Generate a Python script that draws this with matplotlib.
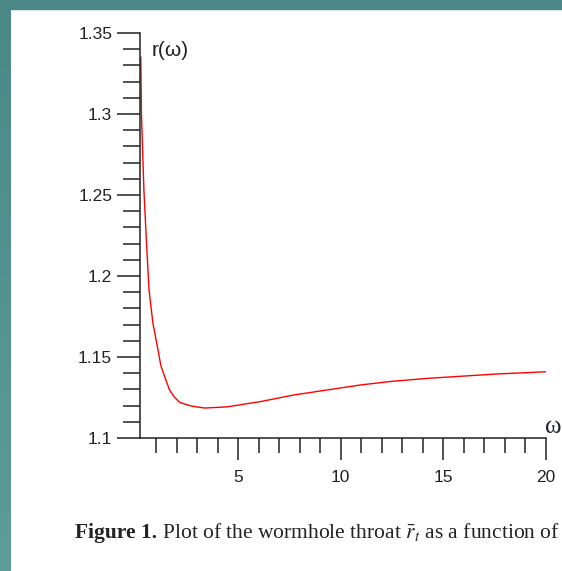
import matplotlib.pyplot as plt
import numpy as np
from matplotlib.colors import LinearSegmentedColormap
from matplotlib.ticker import MultipleLocator

# values
omega = [0.26, 0.29, 0.41, 0.53, 0.66, 0.85, 1.10, 1.23, 1.42, 1.66, 1.91, 2.15, 2.56,
         2.82, 3.37, 4.44, 6.06, 7.69, 9.31, 10.94, 12.5, 14.33, 17.6, 20.0]
r_throat = [1.335, 1.300, 1.2531, 1.2222, 1.1914, 1.1708, 1.1543, 1.145, 1.1379, 1.1296,
            1.125, 1.122, 1.1203, 1.1195, 1.1185, 1.1192, 1.1224, 1.1265, 1.1296, 1.1327,
            1.1350, 1.1369, 1.1395, 1.1409]
y_ticks = [1.1, 1.15, 1.2, 1.25, 1.3, 1.35]
y_tick_labels = ['1.1', '1.15', '1.2', '1.25', '1.3', '1.35']
x_ticks = [5, 10, 15, 20]

plt.rcParams['font.family'] = ['Liberation Sans', 'DejaVu Sans']
plt.rcParams['mathtext.fontset'] = 'stix'

W, H = 562, 571
fig = plt.figure(figsize=(W / 100, H / 100), dpi=100)
fig.patch.set_facecolor('white')

# teal frame (top band + left band with a light gradient)
fig.patches.append(plt.Rectangle((0, 1 - 9 / H), 1, 9 / H, transform=fig.transFigure,
                                 color='#4a8987', zorder=0))
band = fig.add_axes([0, 0, 11 / W, 1 - 9 / H])
grad = np.linspace(0, 1, 256).reshape(-1, 1)
cmap = LinearSegmentedColormap.from_list('teal', ['#4a8987', '#5d9c9a'])
band.imshow(grad, aspect='auto', cmap=cmap, extent=[0, 1, 0, 1])
band.axis('off')

ax = fig.add_axes([140 / W, (H - 438) / H, (546 - 140) / W, (438 - 33) / H])
ax.plot(omega, r_throat, color='#ff0000', lw=1.0)

ax.set_xlim(0.22, 20)
ax.set_ylim(1.1, 1.35)
ax.set_xticks(x_ticks)
ax.set_yticks(y_ticks)
ax.set_yticklabels(y_tick_labels)
ax.xaxis.set_minor_locator(MultipleLocator(1))
ax.yaxis.set_minor_locator(MultipleLocator(0.01))

for s in ['top', 'right']:
    ax.spines[s].set_visible(False)
for s in ['left', 'bottom']:
    ax.spines[s].set_linewidth(1.1)
    ax.spines[s].set_color('#222222')

ax.tick_params(axis='y', which='major', direction='out', length=16.5, width=1.1,
               pad=3.5, labelsize=12.5, colors='#222222')
ax.tick_params(axis='y', which='minor', direction='out', length=12, width=1.1,
               colors='#222222')
ax.tick_params(axis='x', which='major', direction='out', length=15.8, width=1.1,
               pad=7, labelsize=12.5, colors='#222222')
ax.tick_params(axis='x', which='minor', direction='out', length=10.8, width=1.1,
               colors='#222222')

ax.text(152 / W, 1 - 50 / H, 'r(ω)', transform=fig.transFigure, fontsize=15,
        ha='left', va='center', color='#222222')
ax.text(553 / W, 1 - 427 / H, 'ω', transform=fig.transFigure, fontsize=18,
        ha='center', va='center', color='#1a2233', family=['Liberation Serif'])

t1 = fig.text(75 / W, 1 - 538 / H, 'Figure 1.', fontsize=15.5, fontweight='bold',
              family=['Liberation Serif'], color='#222222', va='baseline')
ax.annotate(' Plot of the wormhole throat $\\bar{r}_t$ as a function of',
            xy=(1, 0), xycoords=t1, fontsize=15.5, family=['Liberation Serif'],
            color='#222222', va='bottom', annotation_clip=False)

fig.savefig('out.png', dpi=100)
